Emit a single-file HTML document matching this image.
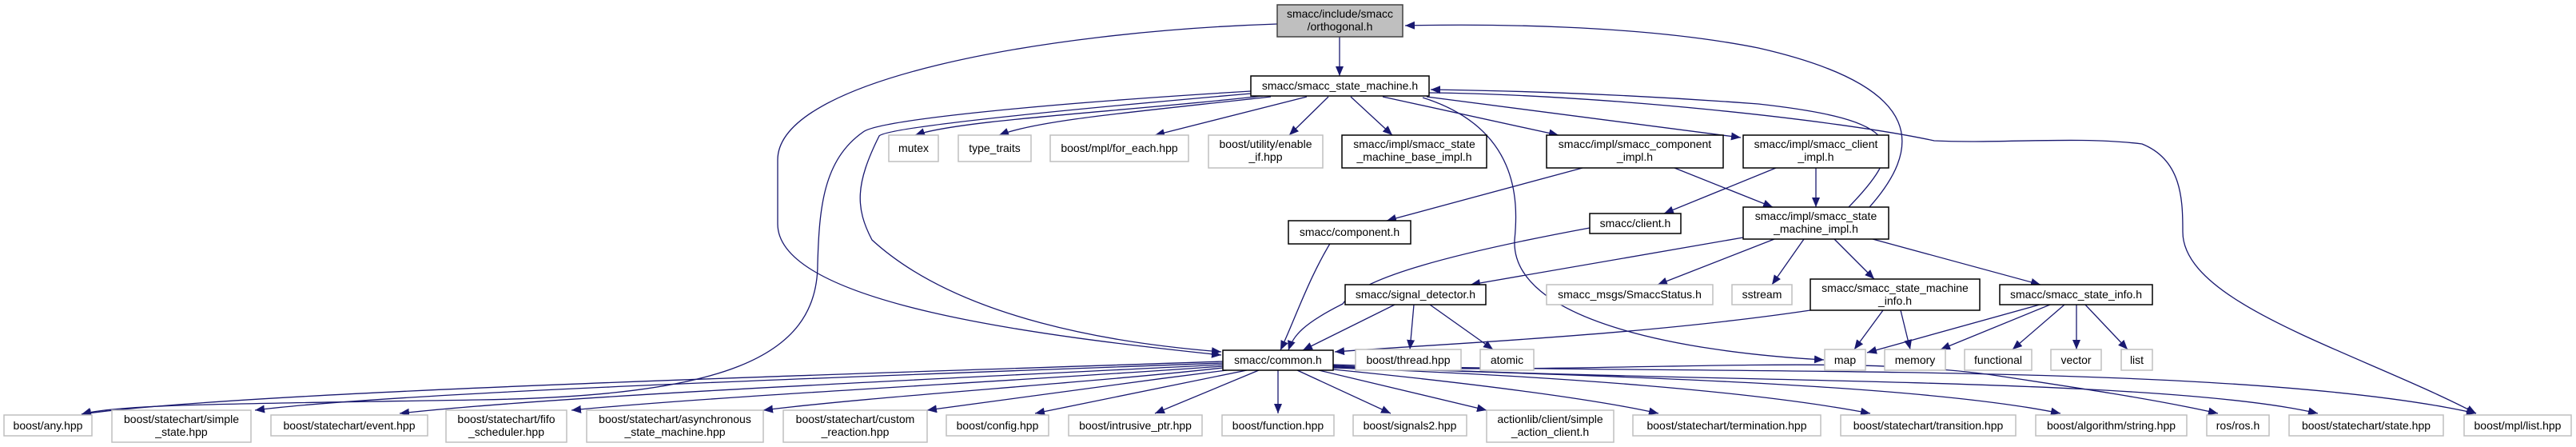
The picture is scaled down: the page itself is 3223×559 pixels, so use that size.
<!DOCTYPE html>
<html><head><meta charset="utf-8"><style>
html,body{margin:0;padding:0;background:#fff;}
svg{display:block;}
text{font-family:"Liberation Sans",sans-serif;font-size:14px;fill:#000;}
</style></head><body>
<svg width="3223" height="559" viewBox="0 0 3223 559" xmlns="http://www.w3.org/2000/svg">
<defs>
<marker id="a" markerUnits="userSpaceOnUse" markerWidth="12" markerHeight="10" refX="12" refY="5" orient="auto">
<path d="M0,0 L12,5 L0,10 z" fill="#191970"/>
</marker>
</defs>
<g fill="none" stroke="#191970" stroke-width="1.3" marker-end="url(#a)">
<path d="M1676,46 L1676,95"/>
<path d="M1598,30 C1300,40 973,100 973,200 L973,280 C973,380 1300,420 1528,444"/>
<path d="M2339,259 C2400,190 2420,110 2200,60 C2050,30 1850,30 1758,32"/>
<path d="M2313,259 C2390,180 2380,150 2200,130 C2000,115 1850,113 1790,112"/>
<path d="M1788,116 C2000,118 2300,150 2420,176 C2500,180 2600,170 2680,180 C2730,200 2731,250 2731,290 C2731,380 2950,440 3098,517"/>
<path d="M1580,120 C1400,140 1200,150 1145,169"/>
<path d="M1590,121 C1420,140 1300,150 1250,169"/>
<path d="M1635,121 L1445,169"/>
<path d="M1662,121 L1613,169"/>
<path d="M1690,121 L1742,169"/>
<path d="M1730,121 L1950,169"/>
<path d="M1785,121 L2178,172"/>
<path d="M1780,122 C1900,160 1900,250 1895,300 C1890,400 2100,440 2282,450"/>
<path d="M1565,114 C1300,130 1100,150 1080,165 C1030,200 1025,260 1023,330 C1023,450 900,495 600,500 C300,505 150,505 102,518"/>
<path d="M1565,117 C1300,140 1110,160 1100,170 C1070,230 1070,260 1091,300 C1200,400 1400,430 1528,440"/>
<path d="M1980,210 L1735,276"/>
<path d="M2095,210 L2218,259"/>
<path d="M2222,210 L2082,267"/>
<path d="M2272,210 L2272,259"/>
<path d="M1672,292 C1640,340 1620,400 1602,438"/>
<path d="M1989,285 C1800,320 1700,350 1680,380 C1630,405 1618,420 1612,438"/>
<path d="M2181,297 L1840,356"/>
<path d="M2220,299 L2074,356"/>
<path d="M2257,299 L2217,356"/>
<path d="M2295,299 L2345,349"/>
<path d="M2343,299 L2553,356"/>
<path d="M1745,381 L1630,438"/>
<path d="M1769,381 L1764,437"/>
<path d="M1789,381 L1868,437"/>
<path d="M2265,388 C2050,420 1800,430 1670,440"/>
<path d="M2356,388 L2320,437"/>
<path d="M2378,388 L2390,437"/>
<path d="M2552,381 L2336,441"/>
<path d="M2565,381 L2428,437"/>
<path d="M2583,381 L2518,437"/>
<path d="M2598,381 L2598,437"/>
<path d="M2609,381 L2662,437"/>
<path d="M1530,452 C1000,470 300,490 102,518"/>
<path d="M1530,454 C1100,470 500,490 319,513"/>
<path d="M1530,456 C1150,475 700,495 500,517"/>
<path d="M1530,458 C1250,478 900,495 715,513"/>
<path d="M1530,460 C1350,480 1100,495 955,513"/>
<path d="M1535,463 C1400,480 1250,500 1160,513"/>
<path d="M1560,463 L1295,517"/>
<path d="M1575,463 L1445,517"/>
<path d="M1599,463 L1599,517"/>
<path d="M1623,463 L1740,517"/>
<path d="M1650,463 L1860,513"/>
<path d="M1668,462 C1850,480 2000,500 2075,517"/>
<path d="M1668,460 C1950,470 2200,490 2340,517"/>
<path d="M1668,459 C2000,470 2400,480 2578,517"/>
<path d="M1668,458 C2000,470 2300,440 2500,470 C2600,485 2700,500 2775,517"/>
<path d="M1668,457 C2100,480 2700,470 2900,517"/>
<path d="M1668,456 C2100,470 2800,450 3098,517"/>
</g>
<g stroke-width="1.5">
<rect x="1598" y="6" width="157" height="40" fill="#bfbfbf" stroke="#404040"/>
<text x="1676.5" y="22" text-anchor="middle">smacc/include/smacc</text>
<text x="1676.5" y="38" text-anchor="middle">/orthogonal.h</text>
<rect x="1565" y="95" width="223" height="25" fill="#fff" stroke="#000"/>
<text x="1676.5" y="112" text-anchor="middle">smacc/smacc_state_machine.h</text>
<g fill="#fff" stroke="#bfbfbf">
<rect x="1112" y="169" width="62" height="33"/>
<rect x="1199" y="169" width="91" height="33"/>
<rect x="1314" y="169" width="173" height="33"/>
<rect x="1512" y="169" width="143" height="41"/>
<rect x="1935" y="356" width="208" height="25"/>
<rect x="2167" y="356" width="75" height="25"/>
<rect x="1696" y="437" width="132" height="26"/>
<rect x="1852" y="437" width="67" height="26"/>
<rect x="2283" y="437" width="51" height="26"/>
<rect x="2358" y="437" width="76" height="26"/>
<rect x="2458" y="437" width="84" height="26"/>
<rect x="2566" y="437" width="63" height="26"/>
<rect x="2654" y="437" width="39" height="26"/>
<rect x="5" y="519" width="110" height="26"/>
<rect x="140" y="513" width="174" height="40"/>
<rect x="339" y="519" width="196" height="26"/>
<rect x="558" y="513" width="151" height="40"/>
<rect x="734" y="513" width="221" height="40"/>
<rect x="980" y="513" width="180" height="40"/>
<rect x="1184" y="519" width="128" height="26"/>
<rect x="1337" y="519" width="167" height="26"/>
<rect x="1529" y="519" width="140" height="26"/>
<rect x="1693" y="519" width="142" height="26"/>
<rect x="1860" y="513" width="159" height="40"/>
<rect x="2043" y="519" width="235" height="26"/>
<rect x="2303" y="519" width="219" height="26"/>
<rect x="2547" y="519" width="189" height="26"/>
<rect x="2761" y="519" width="78" height="26"/>
<rect x="2864" y="519" width="193" height="26"/>
<rect x="3083" y="519" width="134" height="26"/>
</g>
<g fill="#fff" stroke="#000">
<rect x="1679" y="169" width="181" height="41"/>
<rect x="1935" y="169" width="221" height="41"/>
<rect x="2181" y="169" width="182" height="41"/>
<rect x="1612" y="276" width="153" height="29"/>
<rect x="1989" y="267" width="114" height="25"/>
<rect x="2181" y="259" width="182" height="40"/>
<rect x="1683" y="356" width="176" height="25"/>
<rect x="2265" y="349" width="212" height="39"/>
<rect x="2502" y="356" width="191" height="25"/>
<rect x="1530" y="438" width="138" height="25"/>
</g>
</g>
<g text-anchor="middle">
<text x="1143" y="190">mutex</text>
<text x="1244.5" y="190">type_traits</text>
<text x="1400.5" y="190">boost/mpl/for_each.hpp</text>
<text x="1583.5" y="185">boost/utility/enable</text>
<text x="1583.5" y="201">_if.hpp</text>
<text x="1769.5" y="185">smacc/impl/smacc_state</text>
<text x="1769.5" y="201">_machine_base_impl.h</text>
<text x="2045.5" y="185">smacc/impl/smacc_component</text>
<text x="2045.5" y="201">_impl.h</text>
<text x="2272" y="185">smacc/impl/smacc_client</text>
<text x="2272" y="201">_impl.h</text>
<text x="1688.5" y="295">smacc/component.h</text>
<text x="2046" y="284">smacc/client.h</text>
<text x="2272" y="275">smacc/impl/smacc_state</text>
<text x="2272" y="291">_machine_impl.h</text>
<text x="1771" y="373">smacc/signal_detector.h</text>
<text x="2039" y="373">smacc_msgs/SmaccStatus.h</text>
<text x="2204.5" y="373">sstream</text>
<text x="2371" y="365">smacc/smacc_state_machine</text>
<text x="2371" y="381">_info.h</text>
<text x="2597.5" y="373">smacc/smacc_state_info.h</text>
<text x="1599" y="455">smacc/common.h</text>
<text x="1762" y="455">boost/thread.hpp</text>
<text x="1885.5" y="455">atomic</text>
<text x="2308.5" y="455">map</text>
<text x="2396" y="455">memory</text>
<text x="2500" y="455">functional</text>
<text x="2597.5" y="455">vector</text>
<text x="2673.5" y="455">list</text>
<text x="60" y="537">boost/any.hpp</text>
<text x="227" y="529">boost/statechart/simple</text>
<text x="227" y="545">_state.hpp</text>
<text x="437" y="537">boost/statechart/event.hpp</text>
<text x="633.5" y="529">boost/statechart/fifo</text>
<text x="633.5" y="545">_scheduler.hpp</text>
<text x="844.5" y="529">boost/statechart/asynchronous</text>
<text x="844.5" y="545">_state_machine.hpp</text>
<text x="1070" y="529">boost/statechart/custom</text>
<text x="1070" y="545">_reaction.hpp</text>
<text x="1248" y="537">boost/config.hpp</text>
<text x="1420.5" y="537">boost/intrusive_ptr.hpp</text>
<text x="1599" y="537">boost/function.hpp</text>
<text x="1764" y="537">boost/signals2.hpp</text>
<text x="1939.5" y="529">actionlib/client/simple</text>
<text x="1939.5" y="545">_action_client.h</text>
<text x="2160.5" y="537">boost/statechart/termination.hpp</text>
<text x="2412.5" y="537">boost/statechart/transition.hpp</text>
<text x="2641.5" y="537">boost/algorithm/string.hpp</text>
<text x="2800" y="537">ros/ros.h</text>
<text x="2960.5" y="537">boost/statechart/state.hpp</text>
<text x="3150" y="537">boost/mpl/list.hpp</text>
</g>
</svg>
</body></html>
